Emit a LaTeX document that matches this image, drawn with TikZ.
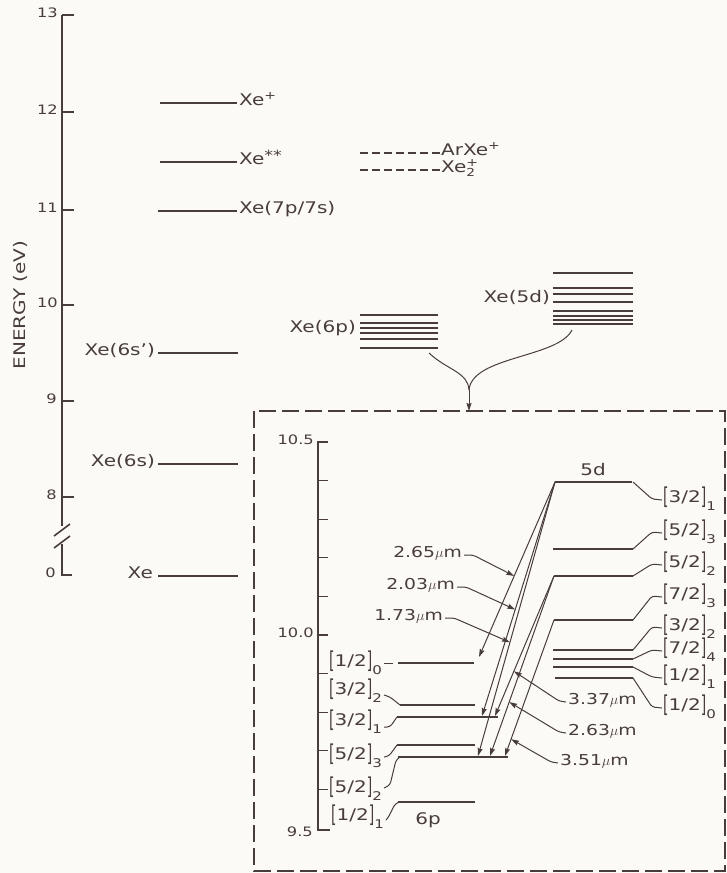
\documentclass[tikz,border=0pt]{standalone}
\usepackage{fontspec}
\setmainfont{DejaVu Sans}[FakeStretch=1.25]
\usepackage{graphicx}
\usetikzlibrary{arrows.meta,calc}
\definecolor{ink}{RGB}{72,60,60}
\definecolor{paper}{RGB}{251,250,247}
\newcommand\fs[1]{\fontsize{#1}{#1}\selectfont}
\newcommand\jlab[2]{\raisebox{-1.8pt}{\scalebox{0.7}[1.45]{[}}#1\raisebox{-1.8pt}{\scalebox{0.7}[1.45]{]}}\raisebox{-8pt}{\fs{12}#2}}
\tikzset{
  lev/.style={draw=ink, line width=1.6pt},
  ax/.style={draw=ink, line width=1.6pt},
  conn/.style={draw=ink, line width=1pt, rounded corners=3pt},
  trans/.style={draw=ink, line width=1pt, -{Stealth[length=8pt,width=5pt,inset=1pt]}},
  lead/.style={conn, -{Stealth[length=8pt,width=5pt,inset=1pt]}},
  txt/.style={inner sep=0pt, text=ink},
  bigl/.style={txt, font=\fs{16}},
  ticklab/.style={txt, font=\fs{13}},
  wl/.style={txt, font=\fs{15}},
  jl/.style={txt, font=\fs{16}},
}
\begin{document}
\begin{tikzpicture}[x=1pt,y=-1pt]
\fill[paper] (0,0) rectangle (727,873);
\useasboundingbox (0,0) rectangle (727,873);

% ---------- main energy axis ----------
\draw[ax] (62,15) -- (62,526);
\draw[ax] (62,544) -- (62,575) -- (72,575);
\foreach \y in {15,112,210,305,401,497} \draw[ax] (62,\y) -- (74,\y);
\draw[ax] (54,536) -- (70,524);
\draw[ax] (54,548) -- (70,536);
\node[ticklab, anchor=mid east] (t13) at (58,15) {13};
\node[ticklab, anchor=mid east] (t12) at (58,112) {12};
\node[ticklab, anchor=mid east] (t11) at (58,210) {11};
\node[ticklab, anchor=mid east] (t10) at (58,305) {10};
\node[ticklab, anchor=mid east] (t9) at (57,401) {9};
\node[ticklab, anchor=mid east] (t8) at (57,497) {8};
\node[ticklab, anchor=mid east] (t0) at (56,575) {0};
\node[txt, font=\fs{16}, rotate=90] (elab) at (20,305) {ENERGY (eV)};

% ---------- atomic levels ----------
\draw[lev] (160,103) -- (237,103);
\node[bigl, anchor=mid west] (xeplus) at (239,103) {Xe\textsuperscript{+}};
\draw[lev] (160,162) -- (237,162);
\node[bigl, anchor=mid west] (xess) at (239,162) {Xe\raisebox{4.5pt}{\fs{14}**}};
\draw[lev] (158,211) -- (237,211);
\node[bigl, anchor=mid west] (xe7) at (239,211) {Xe(7p/7s)};
\draw[lev] (158,353) -- (238,353);
\node[bigl, anchor=mid east] (xe6sp) at (155,353) {Xe(6s')};
\draw[lev] (158,464) -- (238,464);
\node[bigl, anchor=mid east] (xe6s) at (155,464) {Xe(6s)};
\draw[lev] (158,576) -- (238,576);
\node[bigl, anchor=mid east] (xe0) at (153,576) {Xe};

% ---------- molecular ions ----------
\draw[lev, line width=1.3pt, dash pattern=on 8pt off 4pt] (360,153) -- (440,153);
\node[bigl, anchor=mid west] (arxe) at (441,153) {ArXe\textsuperscript{+}};
\draw[lev, line width=1.3pt, dash pattern=on 8pt off 4pt] (360,170) -- (440,170);
\node[bigl, anchor=mid west] (xe2) at (441,170) {Xe\rlap{\textsuperscript{+}}\raisebox{-4pt}{\fs{11}2}};

% ---------- 6p and 5d manifolds ----------
\foreach \y in {315,323,328,333,339,348} \draw[lev, line width=1.4pt] (360,\y) -- (438,\y);
\node[bigl, anchor=mid east] (g6lab) at (356,330) {Xe(6p)};
\foreach \y in {273,288,294,302,311,316,320,324} \draw[lev, line width=1.4pt] (553,\y) -- (633,\y);
\node[bigl, anchor=mid east] (g5lab) at (550,300) {Xe(5d)};

\coordinate (g6) at (429,353);
\coordinate (g5) at (572,330);
\coordinate (mg) at (469,390);
\coordinate (bt) at (469,411);
\draw[conn] (g6) .. controls (447,370) and (468,372) .. (mg);
\draw[conn] (g5) .. controls (558,358) and (472,356) .. (mg);
\draw[trans] (mg) -- (bt);

% ---------- inset box ----------
\draw[draw=ink, line width=1.2pt, dash pattern=on 17pt off 6pt] (254,411) rectangle (725,871);

% inset axis
\draw[ax, line width=1.3pt] (328,442) -- (318,442) -- (318,830) -- (330,830);
\foreach \i in {1,...,9} \draw[ax, line width=1.3pt] (318,{442+38.6*\i}) -- (328,{442+38.6*\i});
\node[ticklab, anchor=mid east] (i105) at (314,442) {10.5};
\node[ticklab, anchor=mid east] (i100) at (314,635) {10.0};
\node[ticklab, anchor=mid east] (i95) at (313,834) {9.5};

% 6p levels
\draw[lev] (398,663) -- (474,663);
\draw[lev] (400,705) -- (475,705);
\draw[lev] (397,717) -- (498,717);
\draw[lev] (397,745) -- (475,745);
\draw[lev] (398,757) -- (508,757);
\draw[lev] (398,802) -- (475,802);
\node[bigl] (p6lab) at (428,820) {6p};

\node[jl, anchor=mid west] (l1) at (329,664) {\jlab{1/2}{0}};
\node[jl, anchor=mid west] (l2) at (329,692) {\jlab{3/2}{2}};
\node[jl, anchor=mid west] (l3) at (329,723) {\jlab{3/2}{1}};
\node[jl, anchor=mid west] (l4) at (329,757) {\jlab{5/2}{3}};
\node[jl, anchor=mid west] (l5) at (329,790) {\jlab{5/2}{2}};
\node[jl, anchor=mid west] (l6) at (331,818) {\jlab{1/2}{1}};
\draw[conn] ($(l1.mid east)+(2,-1)$) -- (393,663);
\draw[conn] ($(l2.mid east)+(2,3)$) -- (390,697) -- (400,705);
\draw[conn] ($(l3.mid east)+(2,4)$) -- (390,727) -- (397,717);
\draw[conn] ($(l4.mid east)+(2,0)$) -- (389,756) -- (397,745);
\draw[conn] ($(l5.mid east)+(2,-2)$) -- (390,785) -- (396,760) -- (400,757);
\draw[conn] ($(l6.mid east)+(2,2)$) -- (388,818) -- (395,804) -- (399,802);

% 5d levels
\draw[lev] (555,482) -- (632,482);
\draw[lev] (553,549) -- (633,549);
\draw[lev] (554,576) -- (633,576);
\draw[lev] (554,620) -- (633,620);
\draw[lev] (553,650) -- (633,650);
\draw[lev] (553,659) -- (633,659);
\draw[lev] (553,667) -- (633,667);
\draw[lev] (555,678) -- (633,678);
\node[bigl] (d5lab) at (593,470) {5d};

\node[jl, anchor=mid west] (r1) at (663,500) {\jlab{3/2}{1}};
\node[jl, anchor=mid west] (r2) at (663,533) {\jlab{5/2}{3}};
\node[jl, anchor=mid west] (r3) at (663,565) {\jlab{5/2}{2}};
\node[jl, anchor=mid west] (r4) at (663,597) {\jlab{7/2}{3}};
\node[jl, anchor=mid west] (r5) at (663,628) {\jlab{3/2}{2}};
\node[jl, anchor=mid west] (r6) at (663,651) {\jlab{7/2}{4}};
\node[jl, anchor=mid west] (r7) at (663,678) {\jlab{1/2}{1}};
\node[jl, anchor=mid west] (r8) at (663,708) {\jlab{1/2}{0}};
\coordinate (R1) at (633,482);
\coordinate (R2) at (633,549);
\coordinate (R3) at (633,576);
\coordinate (R4) at (633,620);
\coordinate (R5) at (633,650);
\coordinate (R6) at (633,659);
\coordinate (R7) at (633,667);
\coordinate (R8) at (633,678);
\draw[conn] (R1) -- (652,499) -- ($(r1.mid west)+(-1,0)$);
\draw[conn] (R2) -- (652,532) -- ($(r2.mid west)+(-1,0)$);
\draw[conn] (R3) -- (652,564) -- ($(r3.mid west)+(-1,0)$);
\draw[conn] (R4) -- (652,596) -- ($(r4.mid west)+(-1,0)$);
\draw[conn] (R5) -- (652,627) -- ($(r5.mid west)+(-1,0)$);
\draw[conn] (R6) -- (652,650) -- ($(r6.mid west)+(-1,0)$);
\draw[conn] (R7) -- (652,677) -- ($(r7.mid west)+(-1,0)$);
\draw[conn] (R8) -- (652,707) -- ($(r8.mid west)+(-1,0)$);

% transitions
\coordinate (d31) at (555,482);
\coordinate (d52) at (554,576);
\coordinate (d73) at (554,620);
\coordinate (e10) at (479,657);
\coordinate (e31) at (482,716);
\coordinate (e52a) at (478,756);
\coordinate (e31b) at (495,716);
\coordinate (e52b) at (490,756);
\coordinate (e52c) at (505,756);
\draw[trans] (d31) -- (e10);
\draw[trans] (d31) -- (e31);
\draw[trans] (d31) -- (e52a);
\draw[trans] (d52) -- (e31b);
\draw[trans] (d52) -- (e52b);
\draw[trans] (d73) -- (e52c);

% wavelength labels
\node[wl, anchor=mid east] (w265) at (462,555) {2.65$\mu$m};
\node[wl, anchor=mid east] (w203) at (455,587) {2.03$\mu$m};
\node[wl, anchor=mid east] (w173) at (443,618) {1.73$\mu$m};
\node[wl, anchor=mid west] (w337) at (568,702) {3.37$\mu$m};
\node[wl, anchor=mid west] (w263) at (568,733) {2.63$\mu$m};
\node[wl, anchor=mid west] (w351) at (560,763) {3.51$\mu$m};
\draw[lead] ($(w265.mid east)+(2,0)$) -- ++(9,0) -- ($(d31)!0.537!(e10)$);
\draw[lead] ($(w203.mid east)+(2,0)$) -- ++(9,0) -- ($(d31)!0.545!(e31)$);
\draw[lead] ($(w173.mid east)+(2,0)$) -- ++(9,0) -- ($(d31)!0.585!(e52a)$);
\draw[lead] ($(w337.mid west)+(-2,0)$) -- ++(-7,-1) -- ($(d52)!0.68!(e31b)$);
\draw[lead] ($(w263.mid west)+(-2,0)$) -- ++(-7,-1) -- ($(d52)!0.70!(e52b)$);
\draw[lead] ($(w351.mid west)+(-2,0)$) -- ++(-7,-1) -- ($(d73)!0.876!(e52c)$);
\end{tikzpicture}
\end{document}
